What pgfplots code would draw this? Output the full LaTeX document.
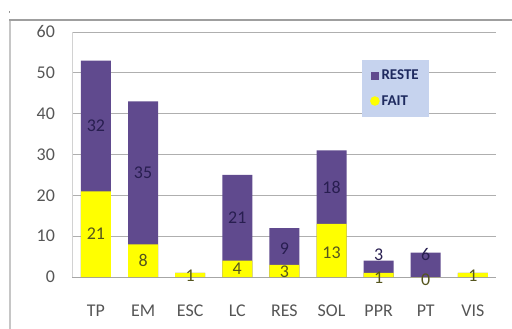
\documentclass[border=0pt]{standalone}
\usepackage{pgfplots}
\pgfplotsset{compat=1.18}
\usepackage{pgfplotstable}
\usepackage{fontspec}
\setmainfont{Carlito}
\definecolor{reste}{RGB}{96,74,142}
\definecolor{fait}{RGB}{255,255,0}
\definecolor{ticktxt}{RGB}{85,85,85}
\definecolor{gridc}{RGB}{175,175,175}
\definecolor{legfill}{RGB}{198,211,238}
\definecolor{legtxt}{RGB}{30,42,95}
\definecolor{lblp}{RGB}{40,30,80}
\definecolor{lbly}{RGB}{85,85,30}

% fy, ry: vertical positions of the value labels
\pgfplotstableread{
x cat fait reste fy ry
0 TP 21 32 10.5 37
1 EM 8 35 4 25.5
2 ESC 1 0 0.2 0
3 LC 4 21 2 14.5
4 RES 3 9 1.2 7
5 SOL 13 18 6 22
6 PPR 1 3 -0.2 5.5
7 PT 0 6 -0.6 5.5
8 VIS 1 0 0.2 0
}\data

\begin{document}
\begin{tikzpicture}
\useasboundingbox (0bp,0bp) rectangle (512bp,329bp);
\draw[gray!45, line width=2.5bp] (10bp,0bp) -- (10bp,309bp);
\draw[gray!75, line width=1.3bp] (9bp,309bp) -- (512bp,309bp);
\node[font=\fontsize{7}{7}\selectfont, inner sep=0pt] at (9.5bp,315bp) {'};
\begin{axis}[
  at={(72.4bp,52bp)}, anchor=south west,
  width=424bp, height=245bp, scale only axis,
  clip=false,
  xmin=-0.5, xmax=8.5, ymin=0, ymax=60,
  xtick={0,...,8}, xticklabels={TP,EM,ESC,LC,RES,SOL,PPR,PT,VIS},
  ytick={0,10,...,60},
  /pgf/number format/assume math mode=true,
  major tick length=0pt,
  axis x line*=bottom, axis y line*=left,
  x axis line style={-, gray!70, line width=0.8bp},
  y axis line style={-, gray!35, line width=0.8bp},
  ymajorgrids, grid style={gridc, line width=0.8bp},
  tick label style={text=ticktxt, font=\fontsize{18}{20}\selectfont},
  yticklabel style={anchor=east, xshift=-14bp},
  xticklabel style={anchor=center, yshift=-34bp},
  legend style={at={(0.683,0.886)}, anchor=north west, fill=legfill, draw=none,
    font=\fontsize{15}{17}\selectfont\bfseries, text=legtxt,
    inner xsep=8bp, inner ysep=8bp, row sep=10bp, legend cell align=left},
]
\addplot[ybar, bar width=30bp, bar shift=0pt, fill=reste, draw=none, forget plot]
  table[x=x, y expr=\thisrow{fait}+\thisrow{reste}] {\data};
\addplot[ybar, bar width=30bp, bar shift=0pt, fill=fait, draw=none, forget plot]
  table[x=x, y=fait] {\data};
\addplot[draw=none, mark=none, forget plot, nodes near coords, point meta=explicit symbolic,
  every node near coord/.style={anchor=center, inner sep=0pt, text=lbly, font=\fontsize{18}{20}\selectfont}]
  table[x=x, y=fy, meta=fait] {\data};
\addplot[draw=none, mark=none, forget plot, nodes near coords, point meta=explicit symbolic,
  skip coords between index={2}{3}, skip coords between index={8}{9},
  every node near coord/.style={anchor=center, inner sep=0pt, text=lblp, font=\fontsize{18}{20}\selectfont}]
  table[x=x, y=ry, meta=reste] {\data};
\addlegendimage{legend image code/.code={\fill[reste] (3bp,-3.5bp) rectangle (10bp,3.5bp);}}
\addlegendentry{RESTE}
\addlegendimage{legend image code/.code={\fill[fait] (6.5bp,0bp) circle (4.5bp);}}
\addlegendentry{FAIT}
\end{axis}
\end{tikzpicture}
\end{document}
